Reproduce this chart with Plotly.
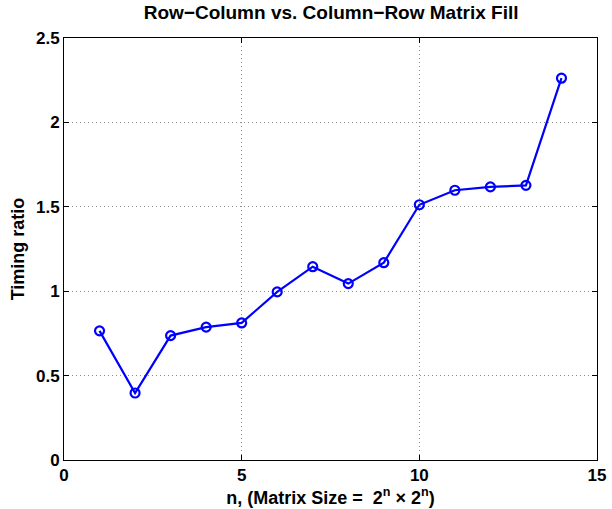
import plotly.graph_objects as go

n_values = [1, 2, 3, 4, 5, 6, 7, 8, 9, 10, 11, 12, 13, 14]
timing_ratio = [0.765, 0.397, 0.737, 0.787, 0.812, 0.996, 1.145, 1.045, 1.169, 1.512, 1.598, 1.618, 1.627, 2.262]
x_ticks = [0, 5, 10, 15]
y_ticks = [0, 0.5, 1, 1.5, 2, 2.5]
y_tick_text = ["0", "0.5", "1", "1.5", "2", "2.5"]

FONT = "Liberation Sans, Arial, sans-serif"

fig = go.Figure()
fig.add_trace(go.Scatter(
    x=n_values, y=timing_ratio, mode="lines+markers",
    line=dict(color="#0000ff", width=2.2),
    marker=dict(symbol="circle-open", size=9, color="#0000ff", line=dict(width=2.2, color="#0000ff")),
    showlegend=False,
))

axis_common = dict(
    showline=True, linecolor="black", linewidth=1, mirror="ticks",
    ticks="inside", ticklen=5, tickcolor="black", tickwidth=1,
    showgrid=True, gridcolor="#8c8c8c", griddash="1px,3px", gridwidth=1,
    zeroline=False, automargin=False,
    tickfont=dict(family=FONT, size=17, color="black", weight="bold"),
)

fig.update_layout(
    width=612, height=509,
    margin=dict(l=64, r=15, t=38, b=49),
    paper_bgcolor="white", plot_bgcolor="white",
    title=dict(text="<b>Row\u2212Column vs. Column\u2212Row Matrix Fill</b>",
               x=0.541, xanchor="center", y=0.976, yanchor="middle",
               font=dict(family=FONT, size=19, color="black")),
    xaxis=dict(range=[0, 15], tickvals=x_ticks, ticklabelstandoff=0,
               title=dict(text="<b>n, (Matrix Size =  2<sup>n</sup> \u00d7 2<sup>n</sup>)</b>",
                          font=dict(family=FONT, size=18, color="black"), standoff=0),
               **axis_common),
    yaxis=dict(range=[0, 2.5], tickvals=y_ticks, ticktext=y_tick_text,
               title=dict(text="<b>Timing ratio</b>",
                          font=dict(family=FONT, size=18, color="black"), standoff=6),
               **axis_common),
)

fig.write_html("out.html", config={"displayModeBar": False},
               post_script="document.body.style.margin='0';document.body.style.padding='0';")
